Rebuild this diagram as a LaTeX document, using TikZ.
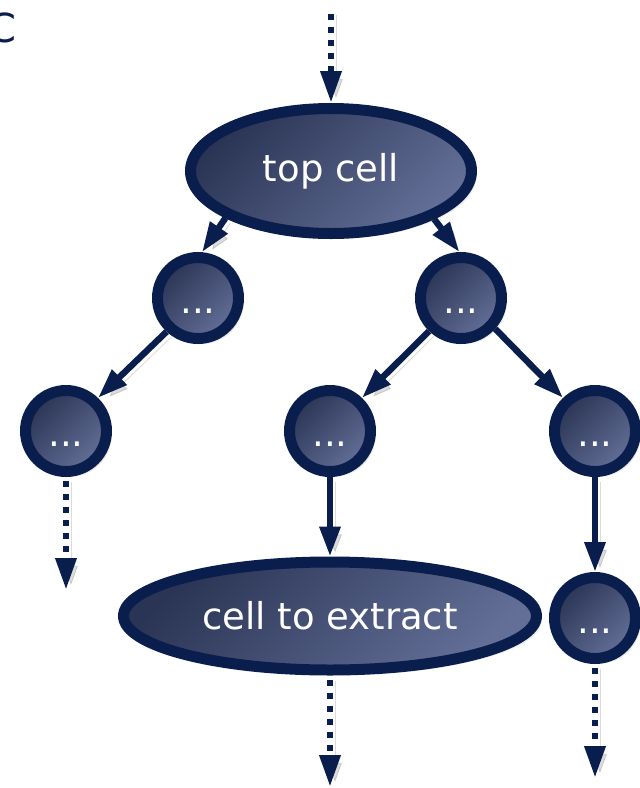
\documentclass[tikz,border=0pt]{standalone}
\usepackage{fontspec}
\setmainfont{DejaVu Sans}
\usetikzlibrary{shapes.geometric,arrows.meta,shadows}
\definecolor{navy}{HTML}{0A1E4E}
\definecolor{shadetop}{HTML}{2A3454}
\definecolor{shadebot}{HTML}{646F98}
\begin{document}
\begin{tikzpicture}[x=0.5pt,y=-0.5pt,
  cellbase/.style={draw=navy, line width=5.5pt,
    top color=shadetop, bottom color=shadebot, shading angle=45,
    text=white, font=\fontsize{18.5}{22}\selectfont, inner sep=0pt,
    drop shadow={shadow xshift=2.5pt, shadow yshift=-2.5pt, opacity=0.16}},
  bigcell/.style={cellbase, ellipse},
  smallcell/.style={cellbase, circle, minimum size=40.5pt,
    text height=17.5pt, text depth=2.2pt},
  hardshadow/.style={preaction={draw=black, opacity=0.14,
    transform canvas={shift={(2.5pt,-2.5pt)}}}},
  link/.style={draw=navy, line width=3.2pt, hardshadow,
    -{Triangle[width=10pt,length=15pt]}},
  feed/.style={draw=navy, line width=3.3pt, dash pattern=on 3pt off 3.5pt,
    dash phase=-2pt, hardshadow,
    -{Triangle[width=10pt,length=16pt]}}]
\useasboundingbox (0,0) rectangle (640,788);

% panel letter, partly beyond the left edge
\node[text=navy, font=\fontsize{20}{24}\selectfont, anchor=base east, inner sep=0pt]
  (mark) at (17,42) {C};

% cells
\node[bigcell, minimum width=140.5pt, minimum height=62.5pt] (top) at (331,171) {top cell};
\node[smallcell] (a) at (198,298) {...};
\node[smallcell] (b) at (461,298) {...};
\node[smallcell] (c) at (66,431) {...};
\node[smallcell] (d) at (330,431) {...};
\node[smallcell] (e) at (595,431) {...};
\node[bigcell, minimum width=206.5pt, minimum height=54pt] (f) at (330,616) {cell to extract};
\node[smallcell] (g) at (595,618) {...};

% loose ends of the hierarchy
\coordinate (in) at (331,10);
\coordinate (cout) at (66,590);
\coordinate (fout) at (330,787);
\coordinate (gout) at (595,778);

% hierarchy links
\draw[link] (top.204) -- (a.85);
\draw[link] (top.335) -- (b.92);
\draw[link] (a.227) -- (c.46);
\draw[link] (b.226) -- (d.46);
\draw[link] (b.318) -- (e.134);
\draw[link] (d.south) -- (f.north);
\draw[link] (e.south) -- (g.north);

% elided continuations
\draw[feed] (in) -- (top.north);
\draw[feed] (c.south) -- (cout);
\draw[feed] (f.south) -- (fout);
\draw[feed] (g.south) -- (gout);
\end{tikzpicture}
\end{document}
